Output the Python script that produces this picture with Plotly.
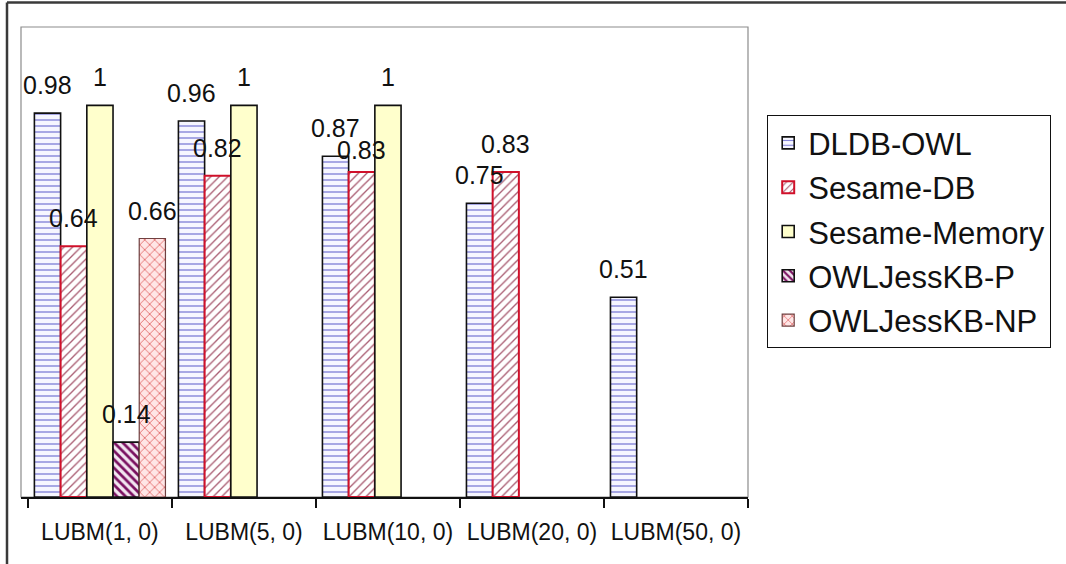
import plotly.graph_objects as go

categories = ["LUBM(1, 0)", "LUBM(5, 0)", "LUBM(10, 0)", "LUBM(20, 0)", "LUBM(50, 0)"]
series_names = ["DLDB-OWL", "Sesame-DB", "Sesame-Memory", "OWLJessKB-P", "OWLJessKB-NP"]
dldb_owl = [0.98, 0.96, 0.87, 0.75, 0.51]
sesame_db = [0.64, 0.82, 0.83, 0.83, None]
sesame_memory = [1, 1, 1, None, None]
owljesskb_p = [0.14, None, None, None, None]
owljesskb_np = [0.66, None, None, None, None]
series_values = [dldb_owl, sesame_db, sesame_memory, owljesskb_p, owljesskb_np]

styles = [
    dict(shape="-", fg="#7f7fd6", bg="#f6f6ff", size=6, sol=0.22, line="#101010", lw=1.6),
    dict(shape="/", fg="#a85a70", bg="#ffffff", size=6, sol=0.22, line="#d0102a", lw=2),
    dict(shape="", fg="#fffdc8", bg="#ffffcc", size=6, sol=0.3, line="#101010", lw=1.6),
    dict(shape="\\", fg="#7a1060", bg="#f2e6f0", size=6, sol=0.45, line="#101010", lw=1.6),
    dict(shape="x", fg="#e06060", bg="#ffe6e6", size=7, sol=0.22, line="#704040", lw=1.2),
]

FONT = "Arial, Liberation Sans, sans-serif"
W, H = 1066, 564
ML, MR, MT, MB = 21, 318, 27, 67
PW = W - ML - MR
PH = H - MT - MB
YMAX = 1.2
BARGAP = 0.09
n = len(series_names)
bw = (1 - BARGAP) / n
px_per_unit = PH / YMAX
BASE_SHIFT = 12
LABEL_H = 22

fig = go.Figure()
for i, (name, vals, st) in enumerate(zip(series_names, series_values, styles)):
    fig.add_trace(go.Bar(
        name=name, x=categories, y=vals,
        legendgroup=name,
        marker=dict(
            color=st["bg"],
            line=dict(color=st["line"], width=st["lw"]),
            pattern=dict(shape=st["shape"], fgcolor=st["fg"], bgcolor=st["bg"],
                         size=st["size"], solidity=st["sol"], fillmode="replace"),
        ),
    ))

annotations = []
for j in range(len(categories)):
    prev_base = None  # pixel height of previous label baseline above axis
    for i, vals in enumerate(series_values):
        v = vals[j]
        if v is None:
            prev_base = None
            continue
        shift = BASE_SHIFT
        base = v * px_per_unit + shift
        if prev_base is not None and abs(base - prev_base) < LABEL_H:
            # nudge the label down so adjacent labels do not collide
            shift -= LABEL_H - abs(base - prev_base)
            base = v * px_per_unit + shift
        prev_base = base
        annotations.append(dict(
            x=j + (i - (n - 1) / 2) * bw, y=v, xref="x", yref="y",
            text=f"{v:g}", showarrow=False, yanchor="bottom", yshift=shift,
            font=dict(family=FONT, size=25, color="#111111"),
        ))

# outer chart border (top & left visible) and plot-area frame
shapes = [
    dict(type="rect", xref="paper", yref="paper", x0=0, x1=1, y0=0, y1=1,
         line=dict(color="#8c8c8c", width=1.2), layer="below"),
    dict(type="line", xref="paper", yref="paper",
         x0=(7 - ML) / PW, x1=(W + 20 - ML) / PW,
         y0=1 + (MT - 2.5) / PH, y1=1 + (MT - 2.5) / PH,
         line=dict(color="#3a3a3a", width=2.5)),
    dict(type="line", xref="paper", yref="paper",
         x0=(7 - ML) / PW, x1=(7 - ML) / PW,
         y0=1 + (MT - 2.5) / PH, y1=-(MB + 20) / PH,
         line=dict(color="#3a3a3a", width=2.5)),
]

fig.update_layout(
    width=W, height=H,
    margin=dict(l=ML, r=MR, t=MT, b=MB, pad=0),
    paper_bgcolor="white", plot_bgcolor="white",
    barmode="group", bargap=BARGAP, bargroupgap=0,
    font=dict(family=FONT, color="#111111"),
    xaxis=dict(type="category", showline=True, linecolor="#111111", linewidth=1.5,
               ticks="outside", tickson="boundaries", ticklen=9, tickwidth=1.5,
               tickcolor="#111111", showgrid=False, zeroline=False,
               tickfont=dict(family=FONT, size=23, color="#111111"),
               ticklabelstandoff=14),
    yaxis=dict(range=[0, YMAX], visible=False, showgrid=False, zeroline=False),
    showlegend=True,
    legend=dict(x=(767 - ML) / PW, y=1 - (115 - MT) / PH, xanchor="left", yanchor="top",
                bordercolor="#111111", borderwidth=1.2, bgcolor="white",
                font=dict(family=FONT, size=31, color="#111111"),
                traceorder="grouped", tracegroupgap=1, itemwidth=30),
    annotations=annotations,
    shapes=shapes,
)

fig.write_html("out.html", config={"displayModeBar": False},
               post_script="document.body.style.margin='0';document.body.style.padding='0';")
